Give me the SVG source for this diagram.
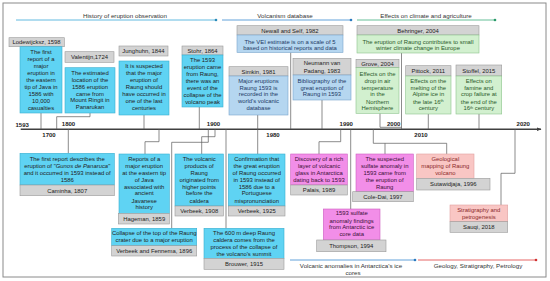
<svg xmlns="http://www.w3.org/2000/svg" width="550" height="281" viewBox="0 0 550 281">
<defs>
<style>
text{font-family:"Liberation Sans",Arial,sans-serif;font-size:5.9px;text-anchor:middle;fill:#222}
.hd{fill:#d3d3d3;stroke:#9a9a9a;stroke-width:0.6}
.cy{fill:#5fd3f3;stroke:#3aaed0;stroke-width:0.6}
.lb{fill:#b5d6f0;stroke:#7aa6cc;stroke-width:0.6}
.gr{fill:#d2f0cf;stroke:#8cc48c;stroke-width:0.6}
.pk{fill:#f28ee8;stroke:#cc60c0;stroke-width:0.6}
.sa{fill:#f9c6c4;stroke:#e0a0a0;stroke-width:0.6}
.tb{fill:#1d3a66}
.tg{fill:#2a5a2a}
.tp{fill:#3a1036}
.tr{fill:#8b2a2a}
.yr{font-weight:bold;font-size:6px;fill:#222}
.ti{font-size:6.2px;fill:#333}
.cn path{fill:none;stroke:#5a5a5a;stroke-width:0.7}
.sup{font-size:3.8px}
</style>
<marker id="arr" viewBox="0 0 10 10" refX="9" refY="5" markerWidth="5" markerHeight="5" orient="auto" markerUnits="userSpaceOnUse">
<path d="M0,1 L10,5 L0,9 z" fill="#404040"/>
</marker>
</defs>
<rect x="3" y="3" width="543" height="274" fill="#fff" stroke="#8a8a8a" stroke-width="1"/>

<!-- section titles -->
<g id="titles">
<text class="ti" x="125" y="17.7">History of eruption observation</text>
<line x1="16" y1="20" x2="216" y2="20" stroke="#3aa8d8" stroke-width="0.8"/>
<circle cx="216" cy="20" r="1.3" fill="#2a8ab8"/>
<text class="ti" x="285" y="17.7">Volcanism database</text>
<line x1="222" y1="20" x2="351" y2="20" stroke="#3a8ad0" stroke-width="0.8"/>
<circle cx="351" cy="20" r="1.3" fill="#2a7ac0"/>
<text class="ti" x="426" y="17.7">Effects on climate and agriculture</text>
<line x1="357" y1="20" x2="495" y2="20" stroke="#3fae7f" stroke-width="0.8"/>
<circle cx="495" cy="20" r="1.3" fill="#2a9a6a"/>
<line x1="290" y1="260" x2="415" y2="260" stroke="#3a8ad0" stroke-width="0.8"/>
<circle cx="415" cy="260" r="1.3" fill="#2a7ac0"/>
<text class="ti" x="351" y="268">Volcanic anomalies in Antarctica's ice</text>
<text class="ti" x="353" y="274.7">cores</text>
<line x1="418" y1="260" x2="536" y2="260" stroke="#e04040" stroke-width="0.8"/>
<circle cx="536" cy="260" r="1.3" fill="#d03030"/>
<text class="ti" x="478" y="267.8">Geology, Stratigraphy, Petrology</text>
</g>

<!-- axis -->
<g id="axis">
<line x1="20.7" y1="129.3" x2="541" y2="129.3" stroke="#404040" stroke-width="1.4" marker-end="url(#arr)"/>
<text class="yr" x="22.2" y="127.1">1593</text>
<text class="yr" x="49" y="136.8">1700</text>
<text class="yr" x="68.5" y="126.4">1800</text>
<text class="yr" x="213.5" y="126.4">1900</text>
<text class="yr" x="273" y="137">1980</text>
<text class="yr" x="346.3" y="126.4">1990</text>
<text class="yr" x="393.7" y="126.4">2000</text>
<text class="yr" x="421" y="137">2010</text>
<text class="yr" x="523.3" y="126.4">2020</text>
</g>

<!-- connectors -->
<g id="connectors" class="cn">
<path d="M41 113 V129"/>
<path d="M90 113 V116.7 H56.7 V129"/>
<path d="M144 115 V129"/>
<path d="M199.3 107 V129"/>
<path d="M290.7 52.5 V129"/>
<path d="M257.7 115 V129"/>
<path d="M322 100 V129"/>
<path d="M401.5 53 V129"/>
<path d="M380 113.3 V127.3 H401.5"/>
<path d="M428.3 114 V129"/>
<path d="M479 114 V129"/>
<path d="M68.3 129 V153.3"/>
<path d="M159 129 V141.7 H145 V154"/>
<path d="M208.3 129 V142.3 H171.7 V228.3"/>
<path d="M215 129 V136.7 H201.7 V154"/>
<path d="M226 129 V228.3"/>
<path d="M257.7 129 V154"/>
<path d="M340.7 129 V141.7 H319 V154"/>
<path d="M350.7 129 V209"/>
<path d="M373.3 129 V143.3 H446.7 V154"/>
<path d="M385 143.3 V154"/>
<path d="M515 129 V173.3 H501 V205"/>
</g>

<!-- top nodes -->
<g id="lodewijcksz">
<rect class="hd" x="9" y="37.7" width="55.3" height="9"/>
<text x="36.6" y="44.4">Lodewijcksz, 1598</text>
<rect class="cy" x="20" y="46.7" width="42" height="66.3"/>
<text x="41" y="54.4">The first</text>
<text x="41" y="61.3">report of a</text>
<text x="41" y="68.2">major</text>
<text x="41" y="75.1">eruption in</text>
<text x="41" y="82">the eastern</text>
<text x="41" y="88.9">tip of Java in</text>
<text x="41" y="95.8">1586 with</text>
<text x="41" y="102.7">10,000</text>
<text x="41" y="109.6">casualties</text>
</g>

<g id="valentijn">
<rect class="hd" x="65" y="51.7" width="49" height="10.6"/>
<text x="89.5" y="58.8">Valentijn,1724</text>
<rect class="cy" x="65" y="67.7" width="50" height="45.3"/>
<text x="90" y="74.8">The estimated</text>
<text x="90" y="81.7">location of the</text>
<text x="90" y="88.6">1586 eruption</text>
<text x="90" y="95.5">came from</text>
<text x="90" y="102.4">Mount Ringit in</text>
<text x="90" y="109.3">Panarukan</text>
</g>

<g id="junghuhn">
<rect class="hd" x="119" y="46" width="49" height="10"/>
<text x="143.5" y="53.1">Junghuhn, 1844</text>
<rect class="cy" x="119" y="61" width="50" height="54"/>
<text x="144" y="68.1">It is suspected</text>
<text x="144" y="75.1">that the major</text>
<text x="144" y="82.1">eruption of</text>
<text x="144" y="89.1">Raung should</text>
<text x="144" y="96.1">have occurred in</text>
<text x="144" y="103.1">one of the last</text>
<text x="144" y="110.1">centuries</text>
</g>

<g id="stohr">
<rect class="hd" x="182" y="46" width="41" height="9"/>
<text x="202.5" y="52.6">Stohr, 1864</text>
<rect class="cy" x="182" y="55" width="41" height="52"/>
<text x="202.5" y="62.1">The 1593</text>
<text x="202.5" y="69">eruption came</text>
<text x="202.5" y="75.9">from Raung,</text>
<text x="202.5" y="82.8">there was an</text>
<text x="202.5" y="89.7">event of the</text>
<text x="202.5" y="96.6">collapse of the</text>
<text x="202.5" y="103.5">volcano peak</text>
</g>

<g id="newall">
<rect class="hd" x="237" y="25.7" width="106" height="9.3"/>
<text x="290" y="32.5">Newall and Self, 1982</text>
<rect class="lb" x="237" y="35" width="106" height="17.5"/>
<text class="tb" x="290" y="43.8">The VEI estimate is on a scale of 5</text>
<text class="tb" x="290" y="50.4">based on historical reports and data</text>
</g>

<g id="simkin">
<rect class="hd" x="229" y="66.7" width="59" height="9.3"/>
<text x="258.5" y="73.5">Simkin, 1981</text>
<rect class="lb" x="229" y="76" width="59" height="39"/>
<text class="tb" x="258.5" y="82.8">Major eruptions</text>
<text class="tb" x="258.5" y="89.6">Raung 1593 is</text>
<text class="tb" x="258.5" y="96.4">recorded in the</text>
<text class="tb" x="258.5" y="103.2">world's volcanic</text>
<text class="tb" x="258.5" y="110">database</text>
</g>

<g id="neumann">
<rect class="hd" x="293" y="58.3" width="58" height="16.7"/>
<text x="322" y="64.8">Neumann van</text>
<text x="322" y="72.5">Padang, 1983</text>
<rect class="lb" x="293" y="75" width="58" height="25"/>
<text class="tb" x="322" y="82.8">Bibliography  of the</text>
<text class="tb" x="322" y="89.6">great eruption of</text>
<text class="tb" x="322" y="96.4">Raung in 1593</text>
</g>

<g id="behringer">
<rect class="hd" x="357" y="25.7" width="122" height="9.3"/>
<text x="418" y="32.5">Behringer, 2004</text>
<rect class="gr" x="357" y="35" width="122" height="18"/>
<text class="tg" x="418" y="43.8">The eruption of Raung contributes to small</text>
<text class="tg" x="418" y="50.4">winter climate change in Europe</text>
</g>

<g id="grove">
<rect class="hd" x="356" y="59.3" width="43" height="8.4"/>
<text x="377.5" y="65.6">Grove, 2004</text>
<rect class="gr" x="356" y="67.7" width="43" height="45.6"/>
<text class="tg" x="377.5" y="76.1">Effects on the</text>
<text class="tg" x="377.5" y="82.8">drop in air</text>
<text class="tg" x="377.5" y="89.8">temperature</text>
<text class="tg" x="377.5" y="96.4">in the</text>
<text class="tg" x="377.5" y="103.8">Northern</text>
<text class="tg" x="377.5" y="110.4">Hemisphere</text>
</g>

<g id="pittock">
<rect class="hd" x="405.7" y="65.7" width="45.3" height="10.3"/>
<text x="428.3" y="72.8">Pittock, 2011</text>
<rect class="gr" x="405.7" y="76" width="45.3" height="38"/>
<text class="tg" x="428.3" y="82.8">Effects on the</text>
<text class="tg" x="428.3" y="89.8">melting  of the</text>
<text class="tg" x="428.3" y="96.4">Alpine ice in</text>
<text class="tg" x="428.3" y="103.8">the late 16<tspan class="sup" dy="-1.8">th</tspan></text>
<text class="tg" x="428.3" y="110.4">century</text>
</g>

<g id="stoffel">
<rect class="hd" x="456" y="65" width="45.7" height="11"/>
<text x="478.8" y="72.8">Stoffel, 2015</text>
<rect class="gr" x="456" y="76" width="45.7" height="38"/>
<text class="tg" x="478.8" y="82.8">Effects on</text>
<text class="tg" x="478.8" y="89.8">famine and</text>
<text class="tg" x="478.8" y="96.4">crop failure at</text>
<text class="tg" x="478.8" y="103.8">the end of the</text>
<text class="tg" x="478.8" y="110.4">16<tspan class="sup" dy="-1.8">th</tspan><tspan dy="1.8"> century</tspan></text>
</g>

<!-- bottom nodes -->
<g id="caminha">
<rect class="cy" x="20" y="153.3" width="94.3" height="31.7"/>
<text x="67.2" y="161.4">The first report describes the</text>
<text x="67.2" y="168.1">eruption of "<tspan font-style="italic">Gunos de Panaruca</tspan>"</text>
<text x="67.2" y="174.8">and it occurred in 1593 instead of</text>
<text x="67.2" y="182.1">1586</text>
<rect class="hd" x="20" y="185" width="94.3" height="10.7"/>
<text x="67.2" y="192.8">Caminha, 1807</text>
</g>

<g id="hageman">
<rect class="cy" x="119" y="154" width="50.3" height="59.3"/>
<text x="144.2" y="161.4">Reports of a</text>
<text x="144.2" y="168.1">major eruption</text>
<text x="144.2" y="174.8">at the eastern tip</text>
<text x="144.2" y="182.1">of Java</text>
<text x="144.2" y="188.8">associated with</text>
<text x="144.2" y="195.4">ancient</text>
<text x="144.2" y="202.8">Javanese</text>
<text x="144.2" y="209.4">history</text>
<rect class="hd" x="118.3" y="213.3" width="51" height="10.7"/>
<text x="144.2" y="221.1">Hageman, 1859</text>
</g>

<g id="verbeek-fennema">
<rect class="cy" x="111.7" y="228.3" width="85" height="17.4"/>
<text x="154.2" y="235.4">Collapse of the top of the Raung</text>
<text x="154.2" y="242.1">crater due to a major eruption</text>
<rect class="hd" x="111.7" y="245.7" width="85" height="10.3"/>
<text x="154.2" y="252.6">Verbeek and Fennema, 1896</text>
</g>

<g id="verbeek-1908">
<rect class="cy" x="175" y="154" width="48.3" height="52"/>
<text x="199.2" y="161.4">The volcanic</text>
<text x="199.2" y="168.1">products of</text>
<text x="199.2" y="174.8">Raung</text>
<text x="199.2" y="182.1">originated from</text>
<text x="199.2" y="188.8">higher points</text>
<text x="199.2" y="195.4">before the</text>
<text x="199.2" y="202.8">caldera</text>
<rect class="hd" x="175" y="206" width="48.3" height="10"/>
<text x="199.2" y="213">Verbeek, 1908</text>
</g>

<g id="verbeek-1925">
<rect class="cy" x="228.3" y="154" width="56.7" height="52"/>
<text x="256.7" y="161.4">Confirmation that</text>
<text x="256.7" y="168.1">the great eruption</text>
<text x="256.7" y="174.8">of Raung occurred</text>
<text x="256.7" y="182.1">in 1593 instead of</text>
<text x="256.7" y="188.8">1586 due to a</text>
<text x="256.7" y="195.4">Portuguese</text>
<text x="256.7" y="202.8">mispronunciation</text>
<rect class="hd" x="228.3" y="206" width="56.7" height="10"/>
<text x="256.7" y="213">Verbeek, 1925</text>
</g>

<g id="brouwer">
<rect class="cy" x="204" y="228.3" width="80" height="30"/>
<text x="244" y="235.4">The 600 m deep Raung</text>
<text x="244" y="242.1">caldera comes from the</text>
<text x="244" y="249.4">process of the collapse of</text>
<text x="244" y="256.1">the volcano's summit</text>
<rect class="hd" x="204" y="258.3" width="80" height="11"/>
<text x="244" y="266">Brouwer, 1915</text>
</g>

<g id="palais">
<rect class="pk" x="290.7" y="154" width="56.6" height="31"/>
<text class="tp" x="319" y="161.4">Discovery of a rich</text>
<text class="tp" x="319" y="168.1">layer of volcanic</text>
<text class="tp" x="319" y="174.8">glass in Antarctica</text>
<text class="tp" x="319" y="182.1">dating back to 1593</text>
<rect class="hd" x="290.7" y="185" width="56.6" height="10"/>
<text x="319" y="192.3">Palais, 1989</text>
</g>

<g id="cole-dai">
<rect class="pk" x="356" y="154" width="57.3" height="37.7"/>
<text class="tp" x="384.7" y="161.4">The suspected</text>
<text class="tp" x="384.7" y="168.1">sulfate anomaly in</text>
<text class="tp" x="384.7" y="174.8">1593 came from</text>
<text class="tp" x="384.7" y="182.1">the eruption of</text>
<text class="tp" x="384.7" y="188.8">Raung</text>
<rect class="hd" x="352.7" y="191.7" width="60.6" height="10"/>
<text x="383" y="198.9">Cole-Dai, 1997</text>
</g>

<g id="thompson">
<rect class="pk" x="323.3" y="209" width="56.7" height="31"/>
<text class="tp" x="351.7" y="215.4">1593 sulfate</text>
<text class="tp" x="351.7" y="222.6">anomaly findings</text>
<text class="tp" x="351.7" y="229.4">from Antarctic ice</text>
<text class="tp" x="351.7" y="236.4">core data</text>
<rect class="hd" x="316.7" y="240" width="69.3" height="11.7"/>
<text x="351.3" y="248">Thompson, 1994</text>
</g>

<g id="sutawidjaja">
<rect class="sa" x="416.7" y="154" width="57.3" height="24.3"/>
<text class="tr" x="445.3" y="161.4">Geological</text>
<text class="tr" x="445.3" y="168.1">mapping  of Raung</text>
<text class="tr" x="445.3" y="174.8">volcano</text>
<rect class="hd" x="416.7" y="178.3" width="73.3" height="11.7"/>
<text x="453.3" y="186.4">Sutawidjaja, 1996</text>
</g>

<g id="sauqi">
<rect class="sa" x="450" y="205" width="57.7" height="16.7"/>
<text class="tr" x="478.8" y="212.1">Stratigraphy and</text>
<text class="tr" x="478.8" y="219.4">petrogenesis</text>
<rect class="hd" x="450" y="221.7" width="57.7" height="10.6"/>
<text x="478.8" y="229.3">Sauqi, 2018</text>
</g>
</svg>
